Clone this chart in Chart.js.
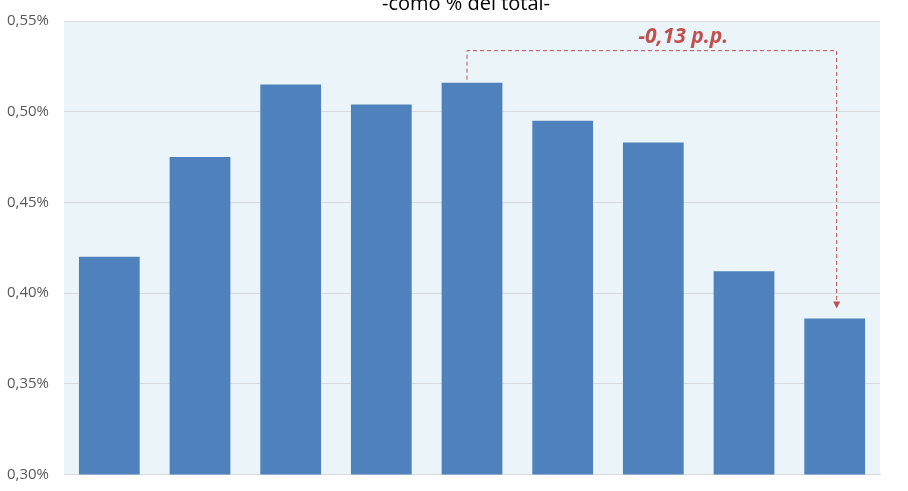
<!DOCTYPE html>
<html>
<head>
<meta charset="utf-8">
<script src="https://cdn.jsdelivr.net/npm/chart.js@4"></script>
<style>
  html, body { margin: 0; padding: 0; background: #fff; overflow: hidden; }
  #wrap { position: absolute; left: 0; top: -10px; width: 908px; height: 532px; }
</style>
</head>
<body>
<div id="wrap"><canvas id="chart"></canvas></div>
<script>
// datos
const years = ['2007', '2008', '2009', '2010', '2011', '2012', '2013', '2014', '2015'];
const shares = [0.420, 0.475, 0.515, 0.504, 0.516, 0.495, 0.483, 0.412, 0.386];
const yTicks = [0.30, 0.35, 0.40, 0.45, 0.50, 0.55];
const titleText = '-como % del total-';
const noteText = '-0,13 p.p.';
const noteFrom = 4; // barra de inicio de la flecha
const noteTo = 8;   // barra final

const fmt = v => v.toFixed(2).replace('.', ',') + '%';

// fondo azul claro del área del gráfico + título
const plotBg = {
  id: 'plotBg',
  beforeDraw(chart) {
    const { ctx, chartArea: a } = chart;
    ctx.save();
    ctx.fillStyle = '#EBF4F9';
    ctx.fillRect(a.left, a.top, a.right - a.left, a.bottom - a.top);
    ctx.font = '20px "Open Sans", sans-serif';
    ctx.fillStyle = '#000';
    ctx.textAlign = 'center';
    ctx.textBaseline = 'middle';
    ctx.fillText(titleText, (a.left + a.right) / 2 - 6, a.top - 17);
    ctx.restore();
  }
};

// corchete discontinuo con flecha y texto de la diferencia
const diffNote = {
  id: 'diffNote',
  afterDatasetsDraw(chart) {
    const { ctx, scales: { x, y } } = chart;
    const x1 = x.getPixelForValue(noteFrom) - 5;
    const x2 = x.getPixelForValue(noteTo) + 2;
    const y1 = y.getPixelForValue(shares[noteFrom]) - 3;
    const y2 = y.getPixelForValue(shares[noteTo]) - 10;
    const top = y.getPixelForValue(Math.max(...shares)) - 32;
    ctx.save();
    ctx.strokeStyle = '#C0504D';
    ctx.lineWidth = 1;
    ctx.setLineDash([4, 3]);
    ctx.beginPath();
    ctx.moveTo(x1, y1);
    ctx.lineTo(x1, top);
    ctx.lineTo(x2, top);
    ctx.lineTo(x2, y2 - 6);
    ctx.stroke();
    ctx.setLineDash([]);
    ctx.fillStyle = '#C0504D';
    ctx.beginPath();
    ctx.moveTo(x2 - 3.5, y2 - 7);
    ctx.lineTo(x2 + 3.5, y2 - 7);
    ctx.lineTo(x2, y2);
    ctx.closePath();
    ctx.fill();
    ctx.font = 'italic bold 21px "Open Sans", sans-serif';
    ctx.textAlign = 'center';
    ctx.textBaseline = 'middle';
    ctx.fillText(noteText, x.getPixelForValue(6.33), top - 14);
    ctx.restore();
  }
};

new Chart(document.getElementById('chart'), {
  type: 'bar',
  data: {
    labels: years,
    datasets: [{
      data: shares,
      backgroundColor: '#4F81BD',
      borderWidth: 0,
      barPercentage: 0.67,
      categoryPercentage: 1
    }]
  },
  options: {
    responsive: true,
    maintainAspectRatio: false,
    animation: false,
    layout: { padding: { left: 0, right: 28, top: 31, bottom: 0 } },
    plugins: {
      legend: { display: false },
      tooltip: { enabled: false },
      title: { display: false }
    },
    scales: {
      x: {
        grid: { display: false, drawTicks: false },
        border: { display: true, color: '#D9D9D9' },
        ticks: { color: '#C8C8C8', font: { family: '"Open Sans", sans-serif', size: 13 }, padding: 16 }
      },
      y: {
        min: 0.30,
        max: 0.55,
        afterBuildTicks(scale) { scale.ticks = yTicks.map(v => ({ value: v })); },
        afterFit(scale) { scale.width = 64; },
        grid: { color: '#D9D9D9', drawTicks: false },
        border: { display: false },
        ticks: {
          color: '#595959',
          font: { family: '"Open Sans", sans-serif', size: 15 },
          padding: 15,
          callback: v => fmt(v)
        }
      }
    }
  },
  plugins: [plotBg, diffNote]
});
</script>
</body>
</html>
